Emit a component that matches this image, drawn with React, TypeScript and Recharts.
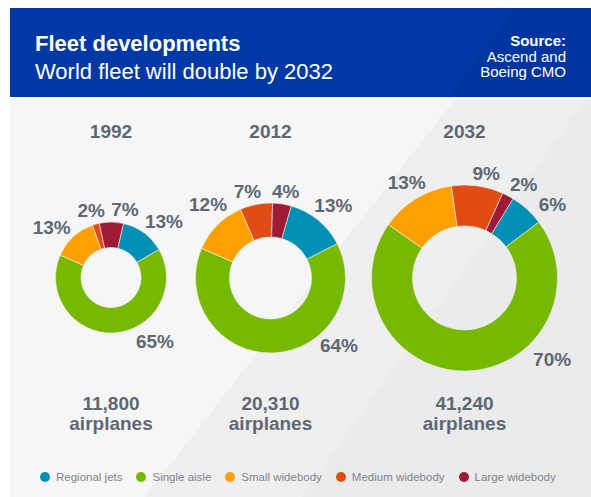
import React from "react";
import { PieChart, Pie, Cell } from "recharts";

// ---- data ----
const categories = ["Regional jets", "Single aisle", "Small widebody", "Medium widebody", "Large widebody"];
const years = ["1992", "2012", "2032"];
const share1992 = [13, 65, 13, 2, 7];
const share2012 = [13, 64, 12, 7, 4];
const share2032 = [6, 70, 13, 9, 2];
const fleetTotals = ["11,800", "20,310", "41,240"];
const unitLabel = "airplanes";
const title = "Fleet developments";
const subtitle = "World fleet will double by 2032";
const sourceLines = ["Source:", "Ascend and", "Boeing CMO"];

// ---- styles / layout ----
const colors = ["#0090b5", "#77b800", "#ff9f00", "#e14c14", "#9d1b37"];
const textGray = "#5d6873";
const FONT = "'Liberation Sans', Arial, Helvetica, sans-serif";

const shares = [share1992, share2012, share2032];
const donutLayout = [
  { cx: 111, cy: 277.5, inner: 30, outer: 55.5, start: 13,
    labels: [[43.4, 77], [145.5, 77.7], [-50, 77.4], [-16.3, 70.3], [11.7, 69]] },
  { cx: 270.5, cy: 278, inner: 41, outer: 75, start: 16,
    labels: [[41, 95.8], [134.7, 96.3], [-40.3, 96.6], [-15, 89.3], [10, 87.7]] },
  { cx: 464.5, cy: 278, inner: 52, outer: 93, start: 31.5,
    labels: [[50.3, 114.3], [133.1, 120], [-31.2, 111.5], [11.8, 106.3], [32.2, 111]] },
];

const makeLabel = (k: number) => (props: any) => {
  const L = donutLayout[k];
  const idx = props.index;
  const [theta, r] = L.labels[idx];
  const rad = (theta * Math.PI) / 180;
  const x = L.cx + r * Math.sin(rad);
  const y = L.cy - r * Math.cos(rad);
  return (
    <text key={`l-${k}-${idx}`} x={x} y={y} textAnchor="middle" dominantBaseline="central"
      fontFamily={FONT} fontWeight={700} fontSize={19} fill={textGray}>
      {`${shares[k][idx]}%`}
    </text>
  );
};

export default function App() {
  return (
    <div style={{ position: "absolute", left: 0, top: 0, width: 591, height: 497, background: "#ffffff", overflow: "hidden", fontFamily: FONT }}>
      {/* background and header */}
      <svg width={591} height={497} style={{ position: "absolute", left: 0, top: 0 }}>
        <rect x={10} y={99} width={581} height={398} fill="#f7f6f7" />
        <polygon points="455,99 591,99 591,497 145,497" fill="#f0eff0" />
        <polygon points="585,99 591,99 591,497 301,497" fill="#ebebeb" />
        <rect x={10} y={8} width={581} height={89} fill="#0039a6" />
        <polygon points="516,8 591,8 591,97 450,97" fill="#0034a0" />
        <text x={35} y={51} fontFamily={FONT} fontWeight={700} fontSize={22} fill="#ffffff">{title}</text>
        <text x={35} y={79} fontFamily={FONT} fontWeight={400} fontSize={22} fill="#ffffff">{subtitle}</text>
        {sourceLines.map((s, i) => (
          <text key={s} x={566} y={46 + i * 15.5} textAnchor="end" fontFamily={FONT}
            fontWeight={i === 0 ? 700 : 400} fontSize={15} fill="#ffffff">{s}</text>
        ))}
        {years.map((y, i) => (
          <text key={y} x={donutLayout[i].cx} y={137.5} textAnchor="middle" fontFamily={FONT}
            fontWeight={700} fontSize={19} fill={textGray}>{y}</text>
        ))}
        {fleetTotals.map((t, i) => (
          <g key={t}>
            <text x={donutLayout[i].cx} y={409.5} textAnchor="middle" fontFamily={FONT}
              fontWeight={700} fontSize={19} fill={textGray}>{t}</text>
            <text x={donutLayout[i].cx} y={430} textAnchor="middle" fontFamily={FONT}
              fontWeight={700} fontSize={19} fill={textGray}>{unitLabel}</text>
          </g>
        ))}
      </svg>

      <div style={{ position: "absolute", left: 0, top: 0 }}>
        <PieChart width={591} height={497} margin={{ top: 0, right: 0, bottom: 0, left: 0 }}>
          {shares.map((arr, k) => {
            const L = donutLayout[k];
            const data = categories.map((name, i) => ({ name, value: arr[i] }));
            return (
              <Pie key={years[k]} data={data} dataKey="value" nameKey="name"
                cx={L.cx} cy={L.cy} innerRadius={L.inner} outerRadius={L.outer}
                startAngle={90 - L.start} endAngle={90 - L.start - 360}
                isAnimationActive={false} labelLine={false} label={makeLabel(k)}
                stroke="#f4f3f4" strokeWidth={0.6}>
                {data.map((d, i) => (
                  <Cell key={d.name} fill={colors[i]} />
                ))}
              </Pie>
            );
          })}
        </PieChart>
      </div>

      {/* legend */}
      <div style={{ position: "absolute", left: 40, top: 469, height: 16, display: "flex", alignItems: "center" }}>
        {categories.map((c, i) => (
          <div key={c} style={{ display: "flex", alignItems: "center", marginRight: 14 }}>
            <span style={{ display: "inline-block", width: 10, height: 10, borderRadius: 5, background: colors[i], marginRight: 6 }} />
            <span style={{ fontSize: 11.5, color: "#80848a", whiteSpace: "nowrap" }}>{c}</span>
          </div>
        ))}
      </div>
    </div>
  );
}
